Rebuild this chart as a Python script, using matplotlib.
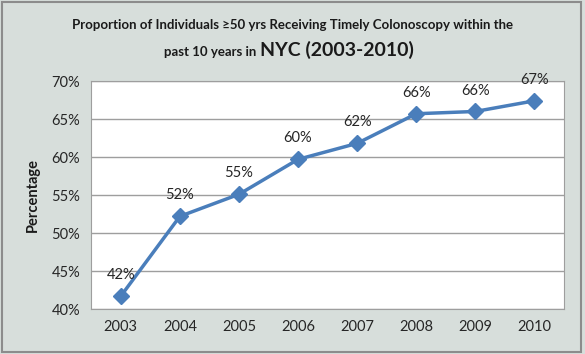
import matplotlib.pyplot as plt
from matplotlib.patches import Rectangle

years = ['2003', '2004', '2005', '2006', '2007', '2008', '2009', '2010']
pct = [41.7, 52.2, 55.1, 59.7, 61.8, 65.7, 66.0, 67.4]
labels = ['42%', '52%', '55%', '60%', '62%', '66%', '66%', '67%']
yticks = [40, 45, 50, 55, 60, 65, 70]

plt.rcParams['font.family'] = ['Lato', 'DejaVu Sans']

fig = plt.figure(figsize=(5.85, 3.54), dpi=100)
fig.patch.set_facecolor('#D7DEDB')
fig.patches.append(Rectangle((0.004, 0.006), 0.99, 0.988, transform=fig.transFigure,
                             fill=False, edgecolor='#8C8C8C', lw=1.5))

ax = fig.add_axes([0.156, 0.127, 0.808, 0.644])
ax.set_facecolor('white')
x = range(len(years))
ax.plot(x, pct, color='#4A7EBB', lw=2.5, marker='D', markersize=8, zorder=3)
for xi, yi, lab in zip(x, pct, labels):
    ax.annotate(lab, (xi, yi), xytext=(0, 10), textcoords='offset points',
                ha='center', va='bottom', fontsize=10.5, color='#262626')

ax.set_xlim(-0.5, len(years) - 0.5)
ax.set_ylim(40, 70)
ax.set_xticks(list(x))
ax.set_xticklabels(years)
ax.set_yticks(yticks)
ax.set_yticklabels([f'{t}%' for t in yticks])
ax.tick_params(length=0, labelsize=10.5, labelcolor='#262626', pad=8)
ax.grid(axis='y', color='#9E9E9E', lw=1)
ax.set_axisbelow(True)
for s in ax.spines.values():
    s.set_color('#9E9E9E')
ax.set_ylabel('Percentage', fontsize=10.5, fontweight='bold', color='#1A1A1A', labelpad=8)

fig.text(0.5, 0.918, 'Proportion of Individuals \u226550 yrs Receiving Timely Colonoscopy within the',
         ha='center', va='baseline', fontsize=9.5, fontweight='bold', color='#1A1A1A')
fig.text(0.444, 0.842, 'past 10 years in ', ha='right', va='baseline',
         fontsize=9.5, fontweight='bold', color='#1A1A1A')
fig.text(0.444, 0.842, 'NYC (2003-2010)', ha='left', va='baseline',
         fontsize=14, fontweight='bold', color='#1A1A1A')

fig.savefig('out.png', dpi=100, facecolor=fig.get_facecolor())
